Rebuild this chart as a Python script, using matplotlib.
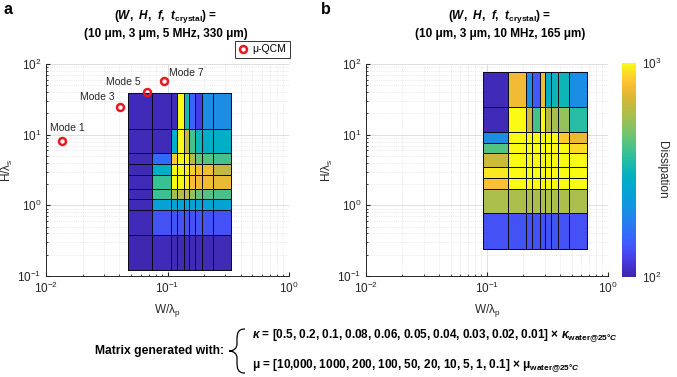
import numpy as np
import matplotlib
matplotlib.use("Agg")
import matplotlib.pyplot as plt
from matplotlib.colors import LinearSegmentedColormap, LogNorm
from matplotlib.path import Path
from matplotlib.patches import PathPatch
from matplotlib.ticker import LogLocator, NullLocator

plt.rcParams['font.family'] = ['Liberation Sans', 'DejaVu Sans']
plt.rcParams['mathtext.fontset'] = 'custom'
plt.rcParams['mathtext.rm'] = 'Liberation Sans'
plt.rcParams['mathtext.it'] = 'Liberation Sans:italic'
plt.rcParams['mathtext.bf'] = 'Liberation Sans:bold'
plt.rcParams['mathtext.bfit'] = 'Liberation Sans:italic:bold'

# cell edges (W/lambda_p, H/lambda_s)
x_edges_a = [0.0475, 0.0751, 0.106, 0.119, 0.137, 0.150, 0.168, 0.194, 0.238, 0.336]
y_edges_a = [0.122, 0.385, 0.86, 1.22, 1.72, 2.72, 3.85, 5.45, 12.2, 38.5]
x_edges_b = [0.093, 0.150, 0.212, 0.237, 0.274, 0.300, 0.335, 0.388, 0.474, 0.665]
y_edges_b = [0.244, 0.77, 1.72, 2.44, 3.44, 5.44, 7.7, 10.9, 24.4, 77.0]

# dissipation, rows listed top to bottom
diss_a = [
    [105, 105, 105, 1000, 330, 151, 120, 200, 200],
    [105, 105, 282, 1000, 631, 398, 316, 282, 282],
    [105, 158, 850, 1000, 950, 600, 447, 417, 398],
    [105, 282, 1000, 1000, 950, 850, 780, 760, 631],
    [105, 380, 1000, 980, 950, 794, 759, 760, 741],
    [105, 380, 562, 600, 600, 525, 447, 417, 398],
    [105, 250, 250, 250, 250, 250, 250, 250, 250],
    [105, 135, 135, 135, 135, 135, 135, 135, 135],
    [102, 105, 105, 105, 105, 105, 105, 105, 105],
]
diss_b = [
    [105, 760, 200, 141, 770, 282, 316, 316, 200],
    [105, 1000, 660, 398, 1000, 603, 562, 525, 355],
    [200, 1000, 1000, 1000, 1000, 1000, 1000, 832, 741],
    [417, 1000, 1000, 1000, 1000, 1000, 1000, 1000, 890],
    [660, 1000, 1000, 1000, 1000, 1000, 1000, 1000, 1000],
    [933, 1000, 1000, 1000, 1000, 1000, 1000, 1000, 1000],
    [794, 1000, 1000, 1000, 1000, 1000, 1000, 1000, 1000],
    [575, 575, 575, 575, 575, 575, 575, 575, 575],
    [135, 135, 135, 135, 135, 135, 135, 135, 135],
]

mode_names = ["Mode 1", "Mode 3", "Mode 5", "Mode 7"]
mode_x = [0.0136, 0.0407, 0.0675, 0.0942]
mode_y = [8.13, 24.4, 40.6, 58.0]
label_x = [0.0149, 0.0266, 0.0436, 0.144]
label_y = [12.5, 33.8, 56.1, 75.3]

# approximate parula
parula = LinearSegmentedColormap.from_list("parula", [
    (0.00, (0.2422, 0.1504, 0.6603)),
    (0.05, (0.2650, 0.1960, 0.8180)),
    (0.10, (0.2770, 0.2700, 0.9300)),
    (0.15, (0.2600, 0.3500, 0.9850)),
    (0.20, (0.1900, 0.4200, 0.9800)),
    (0.25, (0.1500, 0.4900, 0.9300)),
    (0.30, (0.1100, 0.5500, 0.9000)),
    (0.35, (0.0600, 0.6000, 0.8700)),
    (0.40, (0.0200, 0.6400, 0.8300)),
    (0.45, (0.0000, 0.6800, 0.7800)),
    (0.50, (0.0500, 0.7100, 0.7200)),
    (0.55, (0.1500, 0.7400, 0.6400)),
    (0.60, (0.2700, 0.7600, 0.5500)),
    (0.65, (0.4000, 0.7700, 0.4600)),
    (0.70, (0.5300, 0.7600, 0.3800)),
    (0.75, (0.6500, 0.7500, 0.3100)),
    (0.80, (0.7600, 0.7300, 0.2500)),
    (0.85, (0.8700, 0.7200, 0.2000)),
    (0.88, (0.9400, 0.7300, 0.2100)),
    (0.91, (0.9900, 0.7600, 0.2000)),
    (0.95, (0.9800, 0.8500, 0.1600)),
    (1.00, (0.9769, 0.9839, 0.0805)),
])
norm = LogNorm(vmin=100, vmax=1000)
dark = (0.15, 0.15, 0.15)

W, H = 677, 377
fig = plt.figure(figsize=(W / 100, H / 100), dpi=100)


def fbox(left, top, right, bottom):
    return [left / W, 1 - bottom / H, (right - left) / W, (bottom - top) / H]


def style_axes(ax):
    ax.set_xscale('log')
    ax.set_yscale('log')
    ax.set_xlim(1e-2, 1)
    ax.set_ylim(1e-1, 1e2)
    ax.xaxis.set_major_locator(LogLocator(base=10, numticks=10))
    ax.yaxis.set_major_locator(LogLocator(base=10, numticks=10))
    ax.xaxis.set_minor_locator(LogLocator(base=10, subs=np.arange(2, 10), numticks=20))
    ax.yaxis.set_minor_locator(LogLocator(base=10, subs=np.arange(2, 10), numticks=20))
    ax.set_axisbelow(True)
    ax.grid(True, which='major', color=(0.86, 0.86, 0.86), lw=0.6)
    ax.grid(True, which='minor', color=(0.86, 0.86, 0.86), lw=0.5, ls=':')
    for s in ['top', 'right']:
        ax.spines[s].set_visible(False)
    for s in ['left', 'bottom']:
        ax.spines[s].set_color(dark)
        ax.spines[s].set_linewidth(0.7)
    ax.tick_params(which='both', direction='in', colors=dark, labelsize=8.5)
    ax.tick_params(which='major', length=3)
    ax.tick_params(which='minor', length=1.5)
    ax.set_xlabel("W/λ$_{\\mathregular{p}}$", fontsize=8.5, color=dark, labelpad=4)
    ax.set_ylabel("H/λ$_{\\mathregular{s}}$", fontsize=8.5, color=dark, labelpad=1)


ax_a = fig.add_axes(fbox(46, 64, 289, 276))
ax_b = fig.add_axes(fbox(366, 64, 608, 276))
cax = fig.add_axes(fbox(622, 63, 636, 277))

for ax, xe, ye, d in [(ax_a, x_edges_a, y_edges_a, diss_a), (ax_b, x_edges_b, y_edges_b, diss_b)]:
    style_axes(ax)
    mesh = ax.pcolormesh(xe, ye, np.array(d)[::-1], cmap=parula, norm=norm,
                         edgecolors=(0.05, 0.05, 0.1), linewidth=0.5)

# u-QCM modes
ax_a.plot(mode_x, mode_y, 'o', mfc='none', mec=(0.9, 0.1, 0.12), mew=1.8, ms=5,
          label="μ-QCM", clip_on=False, zorder=5)
for nm, lx, ly in zip(mode_names, label_x, label_y):
    ax_a.text(lx, ly, nm, fontsize=7.5, color=dark, ha='center', va='center')
leg = ax_a.legend(loc='lower right', bbox_to_anchor=(290 / W, 1 - 58 / H),
                  bbox_transform=fig.transFigure, fontsize=7.5, frameon=True,
                  fancybox=False, handlelength=0.8, handletextpad=0.5,
                  borderpad=0.35, borderaxespad=0)
leg.get_frame().set_edgecolor('black')
leg.get_frame().set_linewidth(0.7)

# colorbar
cb = fig.colorbar(mesh, cax=cax)
cb.outline.set_linewidth(0)
cax.yaxis.set_major_locator(LogLocator(base=10, numticks=5))
cax.yaxis.set_minor_locator(NullLocator())
cax.tick_params(length=0, labelsize=8.5, colors=dark, pad=4)
cb.set_label("Dissipation", rotation=270, fontsize=8.5, color=dark, labelpad=5)

# titles
tit1 = r"($\mathbfit{W}$,  $\mathbfit{H}$,  $\mathbfit{f}$,  $\mathbfit{t}_{\mathbf{crystal}}$) ="
for cx, line2 in [(166, "(10 μm, 3 μm, 5 MHz, 330 μm)"), (500, "(10 μm, 3 μm, 10 MHz, 165 μm)")]:
    fig.text(cx / W, 1 - 17 / H, tit1, fontsize=8.5, fontweight='bold', ha='center',
             va='center', color='black')
    fig.text(cx / W, 1 - 34 / H, line2, fontsize=8.5, fontweight='bold', ha='center',
             va='center', color='black')

fig.text(4 / W, 1 - 10 / H, "a", fontsize=11.5, fontweight='bold', ha='left', va='center')
fig.text(321 / W, 1 - 10 / H, "b", fontsize=11.5, fontweight='bold', ha='left', va='center')

# bottom note
fig.text(95 / W, 1 - 351 / H, "Matrix generated with:", fontsize=8.7, fontweight='bold',
         ha='left', va='center')
kappa_vals = ["0.5", "0.2", "0.1", "0.08", "0.06", "0.05", "0.04", "0.03", "0.02", "0.01"]
mu_vals = ["10,000", "1000", "200", "100", "50", "20", "10", "5", "1", "0.1"]
fig.text(252 / W, 1 - 336 / H,
         r"$\mathbfit{\kappa}$ = [" + ", ".join(kappa_vals) + r"] × $\mathbfit{\kappa}_{\mathbf{water@25°}\mathbfit{C}}$",
         fontsize=8.5, fontweight='bold', ha='left', va='center')
fig.text(252 / W, 1 - 366 / H,
         "μ = [" + ", ".join(mu_vals) + r"] × μ$_{\mathbf{water@25°}\mathbfit{C}}$",
         fontsize=8.5, fontweight='bold', ha='left', va='center')

# curly brace
pts = [(245, 329), (238, 329), (237, 333), (237, 340), (237, 344),
       (237, 348), (234, 351), (229, 351),
       (234, 351), (237, 354), (237, 358), (237, 362),
       (237, 369), (238, 373), (245, 373)]
codes = [Path.MOVETO, Path.CURVE4, Path.CURVE4, Path.CURVE4, Path.LINETO,
         Path.CURVE4, Path.CURVE4, Path.CURVE4,
         Path.CURVE4, Path.CURVE4, Path.CURVE4, Path.LINETO,
         Path.CURVE4, Path.CURVE4, Path.CURVE4]
brace = Path([(px / W, 1 - py / H) for px, py in pts], codes)
fig.add_artist(PathPatch(brace, fc='none', ec='black', lw=0.9, transform=fig.transFigure))

fig.savefig("out.png", dpi=100)
